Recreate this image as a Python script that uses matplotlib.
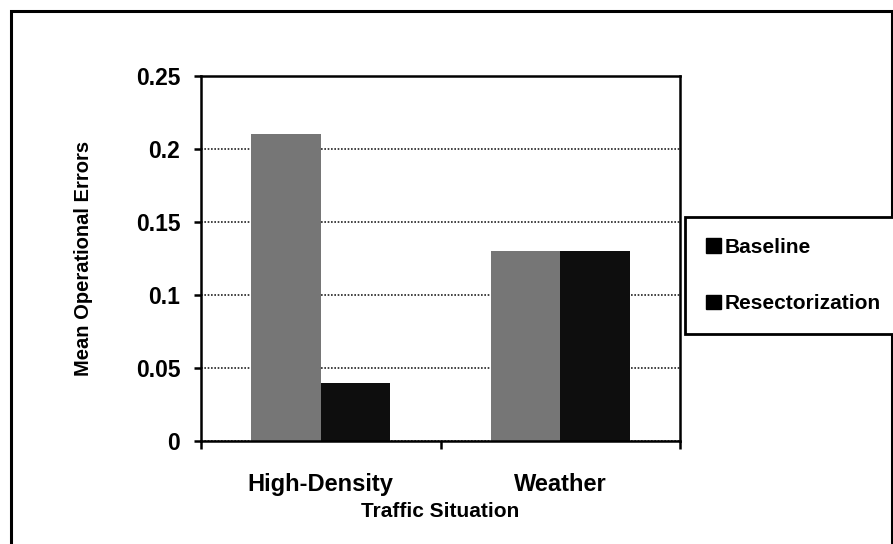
import matplotlib
matplotlib.use("Agg")
import matplotlib.pyplot as plt
from matplotlib.patches import Rectangle, Patch
import numpy as np

plt.rcParams['font.family'] = ['Liberation Sans', 'DejaVu Sans']
plt.rcParams['font.weight'] = 'bold'

# --- data ---
situations = ['High-Density', 'Weather']
series_names = ['Baseline', 'Resectorization']
baseline = [0.21, 0.13]
resectorization = [0.04, 0.13]
y_ticks = [0, 0.05, 0.1, 0.15, 0.2, 0.25]
y_tick_labels = ['0', '0.05', '0.1', '0.15', '0.2', '0.25']

colors = ['#767676', '#0e0e0e']
bar_w = 0.29

fig = plt.figure(figsize=(8.93, 5.44), dpi=100)
ax = fig.add_axes([201 / 893, 1 - 441 / 544, 479 / 893, 365 / 544])

x = np.arange(len(situations))
ax.bar(x - bar_w / 2, baseline, bar_w, color=colors[0], zorder=2)
ax.bar(x + bar_w / 2, resectorization, bar_w, color=colors[1], zorder=2)

ax.set_xlim(-0.5, len(situations) - 0.5)
ax.set_ylim(0, 0.25)

# y axis
ax.set_yticks(y_ticks)
ax.set_yticklabels(y_tick_labels)
ax.tick_params(axis='y', direction='out', length=5, width=1.8, pad=10, labelsize=16.5)
ax.yaxis.grid(True, linestyle=(0, (1, 1)), color='#222222', linewidth=1.2, zorder=1)
ax.set_axisbelow(True)

# x axis: tick marks between categories, labels centred under groups
ax.set_xticks(np.arange(-0.5, len(situations), 1.0))
ax.set_xticklabels([])
ax.set_xticks(x, minor=True)
ax.set_xticklabels(situations, minor=True)
ax.tick_params(axis='x', which='major', direction='out', length=6, width=1.8)
ax.tick_params(axis='x', which='minor', length=0, pad=23, labelsize=17)

for s in ax.spines.values():
    s.set_linewidth(1.8)
    s.set_color('black')

ax.set_xlabel('Traffic Situation', fontsize=15, fontweight='bold')
ax.xaxis.set_label_coords(0.5, -0.168)
ax.set_ylabel('Mean Operational Errors', fontsize=14.5, fontweight='bold')
ax.yaxis.set_label_coords(-0.226, 0.5)

# legend with black swatches as in the scan
handles = [Patch(facecolor='black', edgecolor='black') for _ in series_names]
leg = fig.legend(handles, series_names, loc='upper left',
                 bbox_to_anchor=(685 / 893, 1 - 217 / 544),
                 fontsize=15, frameon=True, fancybox=False, shadow=False,
                 framealpha=1, handlelength=0.72, handleheight=0.72,
                 handletextpad=0.2, labelspacing=1.8, borderpad=1.0,
                 borderaxespad=0)
leg.get_frame().set_edgecolor('black')
leg.get_frame().set_linewidth(2)

# outer chart border (bottom edge runs off the page)
fig.patches.append(Rectangle((11 / 893, -0.05), 881 / 893, 1.05 - 11 / 544,
                             transform=fig.transFigure, fill=False,
                             edgecolor='black', linewidth=2.2))

fig.savefig('out.png', dpi=100)
